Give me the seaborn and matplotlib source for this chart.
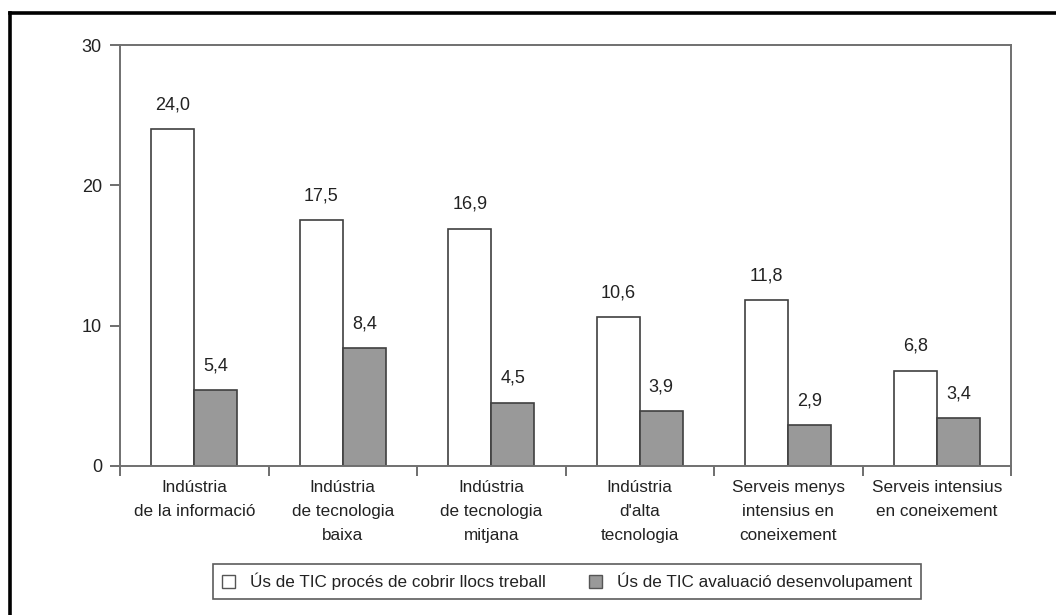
import matplotlib
matplotlib.use("Agg")
import matplotlib.pyplot as plt
from matplotlib.lines import Line2D
from matplotlib.patches import Patch
from matplotlib import font_manager
import seaborn as sns
import pandas as pd
import numpy as np

categories = [
    "Indústria\nde la informació",
    "Indústria\nde tecnologia\nbaixa",
    "Indústria\nde tecnologia\nmitjana",
    "Indústria\nd'alta\ntecnologia",
    "Serveis menys\nintensius en\nconeixement",
    "Serveis intensius\nen coneixement",
]
series_names = [
    "Ús de TIC procés de cobrir llocs treball",
    "Ús de TIC avaluació desenvolupament",
]
values_cobrir = [24.0, 17.5, 16.9, 10.6, 11.8, 6.8]
values_avaluacio = [5.4, 8.4, 4.5, 3.9, 2.9, 3.4]
y_ticks = [0, 10, 20, 30]

df = pd.DataFrame({
    "categoria": categories * 2,
    "serie": [series_names[0]] * len(categories) + [series_names[1]] * len(categories),
    "valor": values_cobrir + values_avaluacio,
})

sns.set_theme(style="white")
available = {f.name for f in font_manager.fontManager.ttflist}
narrow = "Liberation Sans Narrow" in available
family = "Liberation Sans Narrow" if narrow else "Liberation Sans"
plt.rcParams["font.family"] = [family, "DejaVu Sans"]
fs_text = 14 if narrow else 12.3
fs_num = 14 if narrow else 13

fig = plt.figure(figsize=(10.56, 6.15), dpi=100)
ax = fig.add_axes([120 / 1056, 1 - 466 / 615, (1011 - 120) / 1056, (466 - 45) / 615])

colors = ["#ffffff", "#999999"]
sns.barplot(data=df, x="categoria", y="valor", hue="serie", hue_order=series_names,
            order=categories, palette=colors, width=0.58, edgecolor="#404040",
            linewidth=1.2, ax=ax, legend=False)

for cont in ax.containers:
    ax.bar_label(cont, labels=[f"{v:.1f}".replace(".", ",") for v in cont.datavalues],
                 padding=11.5, fontsize=fs_num, color="#222222")

ax.set_ylim(0, 30)
ax.set_xlim(-0.5, len(categories) - 0.5)
ax.set_yticks(y_ticks)
ax.set_yticklabels([str(t) for t in y_ticks], fontsize=fs_num, color="#222222")
ax.set_xticks(range(len(categories)))
ax.set_xticklabels(categories, fontsize=fs_text, color="#222222", linespacing=1.75)
ax.set_xticks(np.arange(-0.5, len(categories), 1.0), minor=True)
ax.tick_params(axis="x", which="major", length=0, pad=10)
ax.tick_params(axis="x", which="minor", length=7, width=1.2, color="#555555", direction="out", bottom=True)
ax.tick_params(axis="y", length=7, width=1.2, color="#555555", direction="out", left=True, pad=6)
ax.set_xlabel("")
ax.set_ylabel("")
for side in ["left", "bottom", "top", "right"]:
    ax.spines[side].set_visible(True)
    ax.spines[side].set_color("#707070")
    ax.spines[side].set_linewidth(1.4)

handles = [Patch(facecolor=c, edgecolor="#555555", linewidth=1.0) for c in colors]
leg = fig.legend(handles, series_names, loc="center", bbox_to_anchor=(567 / 1056, 1 - 581.5 / 615),
                 ncol=2, frameon=True, fancybox=False, fontsize=fs_text, handlelength=0.75,
                 handleheight=0.75, handletextpad=0.9, columnspacing=2.5, borderpad=0.5,
                 borderaxespad=0, labelcolor="#222222")
leg.get_frame().set_edgecolor("#333333")
leg.get_frame().set_linewidth(1.2)

# outer frame: left and top edges
fig.add_artist(Line2D([9.5 / 1056, 9.5 / 1056], [0, 1 - 13 / 615], color="black", lw=2.6,
                      solid_capstyle="projecting", transform=fig.transFigure))
fig.add_artist(Line2D([9.5 / 1056, 1], [1 - 13 / 615, 1 - 13 / 615], color="black", lw=2.6,
                      solid_capstyle="projecting", transform=fig.transFigure))

fig.savefig("out.png", dpi=100, facecolor="white")
